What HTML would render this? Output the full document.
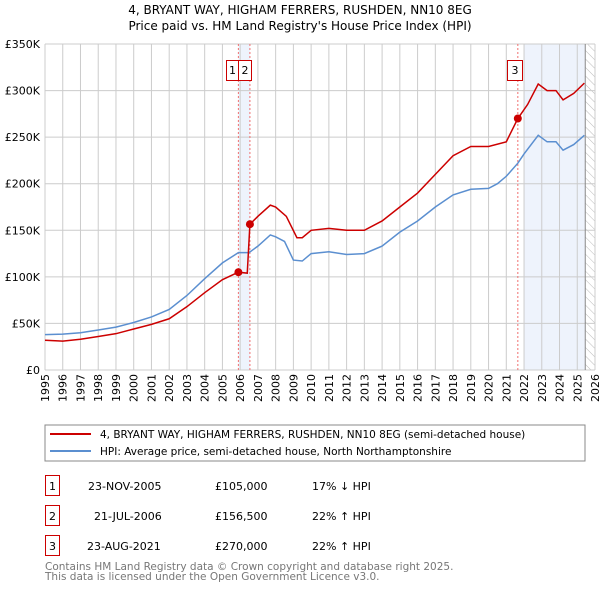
<!DOCTYPE html>
<html><head><meta charset="utf-8"><style>
body{margin:0;background:#fff;font-family:"Liberation Sans","DejaVu Sans",sans-serif}
</style></head><body>
<svg width="600" height="590" xmlns="http://www.w3.org/2000/svg" font-family="DejaVu Sans, Liberation Sans, sans-serif">
<defs><pattern id="hatch" width="6" height="6" patternUnits="userSpaceOnUse" patternTransform="rotate(-45)"><line x1="0" y1="0" x2="0" y2="6" stroke="#bbb" stroke-width="1"/></pattern></defs>
<text x="300" y="14" text-anchor="middle" font-size="12">4, BRYANT WAY, HIGHAM FERRERS, RUSHDEN, NN10 8EG</text>
<text x="300" y="30" text-anchor="middle" font-size="12">Price paid vs. HM Land Registry's House Price Index (HPI)</text>
<g id="plot"></g>
<rect x="45" y="425" width="540" height="36" fill="#fff" stroke="#888"/>
<line x1="50" y1="434" x2="91" y2="434" stroke="#cc0000" stroke-width="2"/>
<text x="100" y="438" font-size="10.5">4, BRYANT WAY, HIGHAM FERRERS, RUSHDEN, NN10 8EG (semi-detached house)</text>
<line x1="50" y1="451" x2="91" y2="451" stroke="#5b8fd0" stroke-width="2"/>
<text x="100" y="455" font-size="10.5">HPI: Average price, semi-detached house, North Northamptonshire</text>
<g font-size="11">
<rect x="45.5" y="475.5" width="14" height="20" fill="none" stroke="#cc0000"/><text x="52.5" y="490" text-anchor="middle">1</text>
<text x="88" y="490">23-NOV-2005</text><text x="215" y="490">£105,000</text><text x="312" y="490">17% ↓ HPI</text>
<rect x="45.5" y="505.5" width="14" height="20" fill="none" stroke="#cc0000"/><text x="52.5" y="520" text-anchor="middle">2</text>
<text x="94" y="520">21-JUL-2006</text><text x="215" y="520">£156,500</text><text x="312" y="520">22% ↑ HPI</text>
<rect x="45.5" y="535.5" width="14" height="20" fill="none" stroke="#cc0000"/><text x="52.5" y="550" text-anchor="middle">3</text>
<text x="87" y="550">23-AUG-2021</text><text x="215" y="550">£270,000</text><text x="312" y="550">22% ↑ HPI</text>
</g>
<text x="45" y="570" font-size="10.5" fill="#777">Contains HM Land Registry data © Crown copyright and database right 2025.</text>
<text x="45" y="580" font-size="10.5" fill="#777">This data is licensed under the Open Government Licence v3.0.</text>
</svg>
<script>
const hpiYears=[1995,1996,1997,1998,1999,2000,2001,2002,2003,2004,2005,2005.9,2006.5,2007,2007.7,2008,2008.5,2009,2009.5,2010,2011,2012,2013,2014,2015,2016,2017,2018,2019,2020,2020.5,2021,2021.65,2022,2022.8,2023.3,2023.8,2024.2,2024.8,2025.4];
const hpiValues=[38,38.5,40,43,46,51,57,65,80,98,115,126,126,133,145,143,138,118,117,125,127,124,125,133,148,160,175,188,194,195,200,208,222,232,252,245,245,236,242,252];
const priceYears=[1995,1996,1997,1998,1999,2000,2001,2002,2003,2004,2005,2005.9,2006.4,2006.55,2007,2007.7,2008,2008.6,2009.2,2009.5,2010,2011,2012,2013,2014,2015,2016,2017,2018,2019,2020,2021,2021.65,2022.2,2022.8,2023.3,2023.8,2024.2,2024.8,2025.4];
const priceValues=[32,31,33,36,39,44,49,55,68,83,97,105,104,156.5,165,177,175,165,142,142,150,152,150,150,160,175,190,210,230,240,240,245,270,285,307,300,300,290,297,308];
const saleYears=[2005.9,2006.55,2021.65];
const saleValues=[105,156.5,270];
const saleLabels=["1","2","3"];
const yTicks=[0,50,100,150,200,250,300,350];
const yTickLabels=["£0","£50K","£100K","£150K","£200K","£250K","£300K","£350K"];
const xTicks=[1995,1996,1997,1998,1999,2000,2001,2002,2003,2004,2005,2006,2007,2008,2009,2010,2011,2012,2013,2014,2015,2016,2017,2018,2019,2020,2021,2022,2023,2024,2025,2026];
const X0=45,X1=595,Y0=370,Y1=44;
const xs=y=>X0+(y-1995)/(2026-1995)*(X1-X0);
const ys=v=>Y0-v/350*(Y0-Y1);
const NS="http://www.w3.org/2000/svg";
const g=document.getElementById('plot');
function mk(t,a){const e=document.createElementNS(NS,t);for(const k in a)e.setAttribute(k,a[k]);g.appendChild(e);return e;}
let e;
e=mk('rect',{x:xs(2005.9),y:Y1,width:xs(2006.55)-xs(2005.9),height:Y0-Y1,fill:'#eef3fc'});


e=mk('rect',{x:xs(2022),y:Y1,width:xs(2025.45)-xs(2022),height:Y0-Y1,fill:'#eef3fc'});


e=mk('rect',{x:xs(2025.45),y:Y1,width:X1-xs(2025.45),height:Y0-Y1,fill:'url(#hatch)'});


yTicks.forEach((t,i)=>{
 e=mk('line',{x1:X0,x2:X1,y1:ys(t),y2:ys(t),stroke:'#ccc'});
 
 
 e=mk('text',{x:X0-5,y:ys(t)+4,'text-anchor':'end','font-size':11});
 e.textContent=yTickLabels[i];
 
 
});
xTicks.forEach(t=>{
 e=mk('line',{x1:xs(t),x2:xs(t),y1:Y1,y2:Y0,stroke:'#ccc'});
 
 
 e=mk('text',{x:0,y:0,'text-anchor':'end','font-size':11,transform:`translate(${xs(t)+4},${Y0+4}) rotate(-90)`});
 e.textContent=t;
 
 
});
e=mk('line',{x1:xs(2025.45),x2:xs(2025.45),y1:Y1,y2:Y0,stroke:'#888'});


saleYears.forEach((s,i)=>{
 e=mk('line',{x1:xs(s),x2:xs(s),y1:Y1,y2:Y0,stroke:'#f07070','stroke-dasharray':'2,2'});
 
 
});
const boxOff=[-12,0,-11];
const boxW=[12,13,15];
const boxX=[xs(saleYears[0])+boxOff[0], xs(saleYears[0])+boxOff[1], xs(saleYears[2])+boxOff[2]];
saleLabels.forEach((lab,i)=>{
 const x=Math.round(boxX[i]);
 e=mk('rect',{x:x+0.5,y:60.5,width:boxW[i],height:20,fill:'#fff',stroke:'#cc0000'});
 
 
 e=mk('text',{x:x+0.5+boxW[i]/2,y:74,'text-anchor':'middle','font-size':11});
 e.textContent=lab;
 
 
});
e=mk('polyline',{points:hpiYears.map((y,i)=>xs(y)+','+ys(hpiValues[i])).join(' '),fill:'none',stroke:'#5b8fd0','stroke-width':1.5});


e=mk('polyline',{points:priceYears.map((y,i)=>xs(y)+','+ys(priceValues[i])).join(' '),fill:'none',stroke:'#cc0000','stroke-width':1.5});


saleYears.forEach((s,i)=>{
 e=mk('circle',{cx:xs(s),cy:ys(saleValues[i]),r:4,fill:'#cc0000'});
 
 
});
</script>
</body></html>
